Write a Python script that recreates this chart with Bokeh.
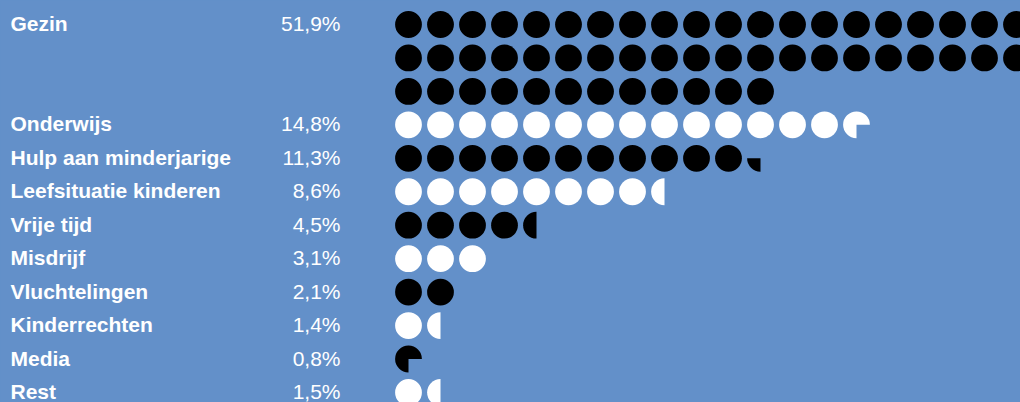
import math
from bokeh.plotting import figure
from bokeh.models import Range1d, ColumnDataSource, GlobalInlineStyleSheet
from bokeh.embed import file_html
from bokeh.resources import INLINE
from bokeh.core.properties import value

# ---- data ----
categories = ["Gezin", "Onderwijs", "Hulp aan minderjarige", "Leefsituatie kinderen",
              "Vrije tijd", "Misdrijf", "Vluchtelingen", "Kinderrechten", "Media", "Rest"]
percentages = [51.9, 14.8, 11.3, 8.6, 4.5, 3.1, 2.1, 1.4, 0.8, 1.5]
dot_colors = ["black", "white", "black", "white", "black",
              "white", "black", "white", "black", "white"]

# ---- style / layout ----
BG = "#6390c9"
PER_ROW = 20
COL_PX = 32.0
ROW_PX = 33.45
W, H = 1020, 402
FIRST_X_PX = 408.0     # first dot centre (figure px)
FIRST_Y_PX = 24.0      # first row centre (figure px)
R = 13.4 / COL_PX      # dot radius in x data units
FONT = "Liberation Sans"
TEXT_DY = -1.0

# ---- build marks ----
full = dict(x=[], y=[], color=[])
part = dict(x=[], y=[], color=[], start=[], end=[])
lab = dict(x=[], y=[], text=[])
pct = dict(x=[], y=[], text=[])

row = 0
label_x = (10 - FIRST_X_PX) / COL_PX
pct_x = (340 - FIRST_X_PX) / COL_PX
for cat, v, col in zip(categories, percentages, dot_colors):
    n_full = int(math.floor(v))
    q = round((v - n_full) * 4) / 4.0
    if q >= 1.0:
        n_full += 1
        q = 0.0
    lab["x"].append(label_x); lab["y"].append(-row); lab["text"].append(cat)
    pct["x"].append(pct_x); pct["y"].append(-row)
    pct["text"].append(("%.1f" % v).replace(".", ",") + "%")
    for i in range(n_full):
        full["x"].append(i % PER_ROW)
        full["y"].append(-(row + i // PER_ROW))
        full["color"].append(col)
    total = n_full + (1 if q > 0 else 0)
    if q > 0:
        i = n_full
        part["x"].append(i % PER_ROW)
        part["y"].append(-(row + i // PER_ROW))
        part["color"].append(col)
        part["start"].append(-math.pi / 2 - q * 2 * math.pi)
        part["end"].append(-math.pi / 2)
    row += (total - 1) // PER_ROW + 1

x0 = -FIRST_X_PX / COL_PX
y1 = FIRST_Y_PX / ROW_PX
p = figure(width=W, height=H,
           x_range=Range1d(x0, x0 + W / COL_PX),
           y_range=Range1d(y1 - H / ROW_PX, y1),
           output_backend="svg", toolbar_location=None, min_border=0)
p.axis.visible = False
p.grid.visible = False
p.outline_line_color = None
p.background_fill_color = BG
p.border_fill_color = BG
p.stylesheets = [GlobalInlineStyleSheet(css="body { background: %s; }" % BG)]

p.circle(x="x", y="y", radius=R, fill_color="color", line_color=None,
         source=ColumnDataSource(full))
p.wedge(x="x", y="y", radius=R, start_angle="start", end_angle="end",
        fill_color="color", line_color=None, source=ColumnDataSource(part))

p.text(x="x", y="y", text="text", source=ColumnDataSource(lab),
       text_font=value(FONT), text_font_style="bold", text_font_size="21px",
       text_color="white", text_align="left", text_baseline="alphabetic",
       y_offset=TEXT_DY)
p.text(x="x", y="y", text="text", source=ColumnDataSource(pct),
       text_font=value(FONT), text_font_style="normal", text_font_size="21px",
       text_color="white", text_align="right", text_baseline="alphabetic",
       y_offset=TEXT_DY)

open("out.html", "w").write(file_html(p, INLINE))
